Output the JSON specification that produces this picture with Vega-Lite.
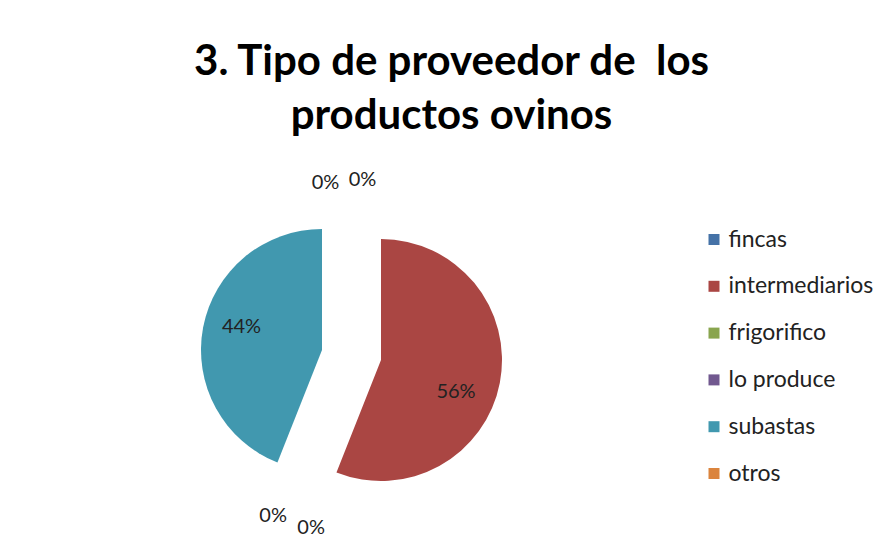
{
  "$schema": "https://vega.github.io/schema/vega-lite/v6.json",
  "width": 300,
  "height": 300,
  "autosize": {"type": "none"},
  "padding": {"left": 201.5, "top": 205, "right": 383.5, "bottom": 55},
  "background": "white",
  "config": {"view": {"stroke": null}},
  "title": {
    "text": ["3. Tipo de proveedor de \u00a0los", "productos ovinos"],
    "font": "Lato",
    "fontSize": 42,
    "fontWeight": "bold",
    "color": "#000000",
    "anchor": "middle",
    "frame": "group",
    "dx": 100,
    "offset": 32,
    "lineHeight": 54
  },
  "data": {
    "values": [
      {"proveedor": "fincas", "valor": 0},
      {"proveedor": "intermediarios", "valor": 0.56},
      {"proveedor": "frigorifico", "valor": 0},
      {"proveedor": "lo produce", "valor": 0},
      {"proveedor": "subastas", "valor": 0.44},
      {"proveedor": "otros", "valor": 0}
    ]
  },
  "transform": [{"window": [{"op": "row_number", "as": "orden"}]}],
  "encoding": {
    "theta": {"field": "valor", "type": "quantitative", "stack": true},
    "order": {"field": "orden", "type": "quantitative"},
    "color": {
      "field": "proveedor",
      "type": "nominal",
      "scale": {
        "domain": ["fincas", "intermediarios", "frigorifico", "lo produce", "subastas", "otros"],
        "range": ["#4572A7", "#AA4643", "#89A54E", "#71588F", "#4198AF", "#DB843D"]
      },
      "legend": {
        "orient": "none",
        "legendX": 501,
        "legendY": 23,
        "title": null,
        "symbolType": "square",
        "symbolSize": 121,
        "symbolStrokeWidth": 0,
        "labelFont": "Lato",
        "labelFontSize": 23,
        "labelColor": "#222222",
        "labelLimit": 300,
        "labelOffset": 3,
        "rowPadding": 22.8
      }
    }
  },
  "layer": [
    {
      "mark": {"type": "arc", "outerRadius": 121, "xOffset": 29.5, "yOffset": 5},
      "encoding": {
        "opacity": {"condition": {"test": "datum.proveedor === 'intermediarios'", "value": 1}, "value": 0}
      }
    },
    {
      "mark": {"type": "arc", "outerRadius": 121, "xOffset": -29.5, "yOffset": -5},
      "encoding": {
        "opacity": {"condition": {"test": "datum.proveedor === 'subastas'", "value": 1}, "value": 0}
      }
    },
    {
      "mark": {"type": "text", "radius": 84, "dx": 22, "dy": 21, "font": "Lato", "fontSize": 20},
      "encoding": {
        "text": {"condition": {"test": "datum.proveedor === 'intermediarios'", "field": "valor", "format": ".0%"}, "value": ""},
        "color": {"value": "#222222"}
      }
    },
    {
      "mark": {"type": "text", "radius": 84, "dx": -27.5, "dy": -12, "font": "Lato", "fontSize": 20},
      "encoding": {
        "text": {"condition": {"test": "datum.proveedor === 'subastas'", "field": "valor", "format": ".0%"}, "value": ""},
        "color": {"value": "#222222"}
      }
    },
    {
      "mark": {"type": "text", "radius": 172, "dx": -26, "font": "Lato", "fontSize": 20},
      "encoding": {
        "text": {"condition": {"test": "datum.proveedor === 'fincas'", "field": "valor", "format": ".0%"}, "value": ""},
        "color": {"value": "#222222"}
      }
    },
    {
      "mark": {"type": "text", "radius": 175, "dx": 11, "font": "Lato", "fontSize": 20},
      "encoding": {
        "text": {"condition": {"test": "datum.proveedor === 'otros'", "field": "valor", "format": ".0%"}, "value": ""},
        "color": {"value": "#222222"}
      }
    },
    {
      "mark": {"type": "text", "radius": 172, "dx": -15, "dy": 1, "font": "Lato", "fontSize": 20},
      "encoding": {
        "text": {"condition": {"test": "datum.proveedor === 'frigorifico'", "field": "valor", "format": ".0%"}, "value": ""},
        "color": {"value": "#222222"}
      }
    },
    {
      "mark": {"type": "text", "radius": 172, "dx": 23, "dy": 13, "font": "Lato", "fontSize": 20},
      "encoding": {
        "text": {"condition": {"test": "datum.proveedor === 'lo produce'", "field": "valor", "format": ".0%"}, "value": ""},
        "color": {"value": "#222222"}
      }
    }
  ]
}
